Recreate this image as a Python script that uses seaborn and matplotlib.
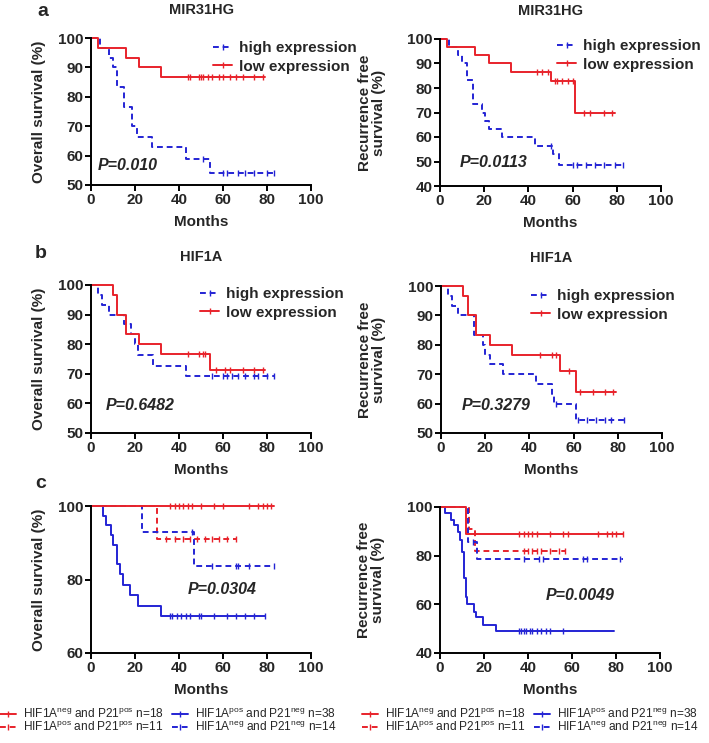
import numpy as np
import matplotlib
matplotlib.use("Agg")
import matplotlib.pyplot as plt
from matplotlib.lines import Line2D
import seaborn as sns

# ──────────────────────────────────────────
# 0.  Setup
# ──────────────────────────────────────────
sns.set_theme(style="ticks")
plt.rcParams["font.family"] = ["Liberation Sans", "DejaVu Sans"]
plt.rcParams["mathtext.fontset"] = "custom"
plt.rcParams["mathtext.rm"] = "Liberation Sans"
plt.rcParams["mathtext.it"] = "Liberation Sans:italic"
plt.rcParams["mathtext.bf"] = "Liberation Sans:bold"

RED = "#e8232b"
BLUE = "#2424d4"
DASH = (0, (3, 2))

# ──────────────────────────────────────────
# 1.  Data
# ──────────────────────────────────────────
# a: MIR31HG, overall survival
os_mir_low_t = [0, 3, 16, 22, 32, 79]
os_mir_low_s = [100, 96.7, 93.3, 90.0, 86.7, 86.7]
os_mir_low_c = [44, 45, 49, 50, 51, 53, 55, 58, 60, 63, 66, 69, 74, 78]
os_mir_high_t = [0, 4, 8, 10, 12, 15, 18.5, 21, 27.5, 43, 54, 83]
os_mir_high_s = [100, 96.7, 93.3, 90.0, 83.3, 76.7, 70.0, 66.3, 62.8, 59.0, 54.2, 54.2]
os_mir_high_c = [51, 60, 62, 67, 70, 74, 80, 83]

# a: MIR31HG, recurrence free survival
rfs_mir_low_t = [0, 3, 16, 22, 32, 50, 61, 79]
rfs_mir_low_s = [100, 96.7, 93.3, 90.0, 86.7, 83.0, 69.9, 69.9]
rfs_mir_low_c = [44, 46, 49, 52, 53, 55, 58, 60, 65, 68, 74, 78]
rfs_mir_high_t = [0, 4, 8, 10, 12, 15, 19, 20.5, 22, 28, 43, 51, 54, 83]
rfs_mir_high_s = [100, 96.7, 93.3, 90.0, 83.3, 73.3, 70.0, 66.7, 63.3, 60.0, 56.5, 53.0, 48.6, 48.6]
rfs_mir_high_c = [50, 60, 62, 66, 70, 74, 79, 83]

# b: HIF1A, overall survival
os_hif_low_t = [0, 10, 12, 16, 22, 32, 54, 79]
os_hif_low_s = [100, 96.7, 90.0, 83.3, 80.0, 76.7, 71.2, 71.2]
os_hif_low_c = [44, 49, 51, 52, 57, 61, 63, 69, 74, 78]
os_hif_high_t = [0, 3, 5, 8, 15, 18, 20, 21.5, 28, 43, 83]
os_hif_high_s = [100, 96.7, 93.3, 90.0, 86.7, 83.3, 80.0, 76.2, 72.7, 69.4, 69.4]
os_hif_high_c = [55, 60, 62, 64, 67, 70, 74, 76, 80, 83]

# b: HIF1A, recurrence free survival
rfs_hif_low_t = [0, 10, 12, 16, 22, 32, 54, 61, 79]
rfs_hif_low_s = [100, 96.7, 90.0, 83.3, 80.0, 76.7, 71.2, 64.0, 64.0]
rfs_hif_low_c = [45, 50, 52, 58, 63, 69, 74, 78]
rfs_hif_high_t = [0, 3, 5, 7.5, 15, 19, 20, 22, 28, 43, 50, 51, 61, 83]
rfs_hif_high_s = [100, 96.7, 93.3, 90.0, 83.3, 80.0, 76.7, 73.3, 70.0, 66.7, 63.3, 59.8, 54.4, 54.4]
rfs_hif_high_c = [52, 62, 66, 70, 74, 77, 83]

# c: HIF1A / P21 groups, overall survival
os_np_t = [0, 83]
os_np_s = [100, 100]
os_np_c = [36, 38, 40, 42, 44, 46, 50, 56, 60, 72, 76, 78, 80, 82]
os_pp_t = [0, 30, 66]
os_pp_s = [100, 90.9, 90.9]
os_pp_c = [34, 38, 42, 45, 48, 52, 55, 58, 62, 66]
os_nn_t = [0, 23, 47, 83]
os_nn_s = [100, 92.9, 83.6, 83.6]
os_nn_c = [46, 55, 66, 67, 72, 83]
os_pn_t = [0, 5.6, 7, 9, 10, 11.7, 13, 14.7, 17.7, 21.5, 32, 79]
os_pn_s = [100, 97.4, 94.7, 92.1, 89.5, 84.2, 81.6, 78.6, 75.7, 72.9, 70.0, 70.0]
os_pn_c = [36, 37, 39, 41, 43, 45, 49, 50, 56, 62, 66, 70, 74, 79]

# c: HIF1A / P21 groups, recurrence free survival
rfs_np_t = [0, 12, 83]
rfs_np_s = [100, 88.9, 88.9]
rfs_np_c = [36, 38, 40, 42, 44, 50, 56, 58, 72, 76, 78, 80, 83]
rfs_pp_t = [0, 13, 16, 57]
rfs_pp_s = [100, 90.9, 81.8, 81.8]
rfs_pp_c = [38, 40, 42, 44, 46, 50, 54, 57]
rfs_nn_t = [0, 12.5, 17, 83]
rfs_nn_s = [100, 85.7, 78.6, 78.6]
rfs_nn_c = [15, 38, 45, 47, 65, 67, 82]
rfs_pn_t = [0, 2.3, 5, 6.5, 8, 9.2, 10, 10.8, 11.6, 12.3, 15.3, 16.4, 19.4, 25.5, 79]
rfs_pn_s = [100, 97.4, 94.8, 92.4, 89.8, 86.6, 81.6, 70.7, 62.9, 60.2, 57.0, 54.6, 51.6, 48.9, 48.9]
rfs_pn_c = [36, 37, 38, 39, 41, 42, 44, 46, 48, 50, 56]

p_values = ["P=0.010", "P=0.0113", "P=0.6482", "P=0.3279", "P=0.0304", "P=0.0049"]
p_pos = [(3, 56.8), (9, 49.5), (6.8, 59.4), (9.5, 59.2), (44, 77.3), (48.2, 63.8)]
expr_labels = ["high expression", "low expression"]
group_labels = [
    r"HIF1A$^{\rm neg}$ and P21$^{\rm pos}$ n=18",
    r"HIF1A$^{\rm pos}$ and P21$^{\rm pos}$ n=11",
    r"HIF1A$^{\rm pos}$ and P21$^{\rm neg}$ n=38",
    r"HIF1A$^{\rm neg}$ and P21$^{\rm neg}$ n=14",
]


# ──────────────────────────────────────────
# 2.  Helpers
# ──────────────────────────────────────────
def km(ax, t, s, cens, color, ls="-"):
    """Step curve plus censor ticks."""
    sns.lineplot(x=t, y=s, ax=ax, color=color, linestyle=ls, linewidth=1.4,
                 drawstyle="steps-post", estimator=None, sort=False, clip_on=False)
    t = np.asarray(t)
    s = np.asarray(s)
    idx = np.searchsorted(t, cens, side="right") - 1
    ax.plot(cens, s[np.clip(idx, 0, len(s) - 1)], ls="none", marker="|",
            ms=4, mew=1.0, color=color, clip_on=False)


def style(ax, ylim, yticks, ylabel, label_x):
    ax.set_xlim(0, 100)
    ax.set_ylim(*ylim)
    ax.set_xticks(range(0, 101, 20))
    ax.set_yticks(yticks)
    ax.set_xlabel("Months", fontsize=11, fontweight="bold", labelpad=6)
    ax.set_ylabel(ylabel, fontsize=11, fontweight="bold", linespacing=1.0)
    ax.yaxis.set_label_coords(label_x, 0.5)
    for lab in ax.get_xticklabels() + ax.get_yticklabels():
        lab.set_fontweight("bold")
    ax.tick_params(labelsize=11, width=1.4, length=4, pad=1.5, color="black")
    for sp in ["left", "bottom"]:
        ax.spines[sp].set_linewidth(1.4)
        ax.spines[sp].set_color("black")
    sns.despine(ax=ax)


def handle(color, ls):
    return Line2D([0], [0], color=color, linestyle=ls, linewidth=1.4,
                  marker="|", ms=4, mew=1.0)


# ──────────────────────────────────────────
# 3.  Figure
# ──────────────────────────────────────────
W, H = 709, 743
fig = plt.figure(figsize=(W / 100, H / 100), dpi=100)


def add_ax(x0, x1, y0, y1):
    return fig.add_axes([x0 / W, 1 - y1 / H, (x1 - x0) / W, (y1 - y0) / H])


ax_a1 = add_ax(91, 311, 38, 185)
ax_a2 = add_ax(440, 661, 39, 186)
ax_b1 = add_ax(91, 311, 285, 433)
ax_b2 = add_ax(441, 662, 286, 433)
ax_c1 = add_ax(91, 311, 506, 653)
ax_c2 = add_ax(440, 660, 507, 653)

# ---------- a ----------
km(ax_a1, os_mir_high_t, os_mir_high_s, os_mir_high_c, BLUE, DASH)
km(ax_a1, os_mir_low_t, os_mir_low_s, os_mir_low_c, RED)
km(ax_a2, rfs_mir_high_t, rfs_mir_high_s, rfs_mir_high_c, BLUE, DASH)
km(ax_a2, rfs_mir_low_t, rfs_mir_low_s, rfs_mir_low_c, RED)

# ---------- b ----------
km(ax_b1, os_hif_high_t, os_hif_high_s, os_hif_high_c, BLUE, DASH)
km(ax_b1, os_hif_low_t, os_hif_low_s, os_hif_low_c, RED)
km(ax_b2, rfs_hif_high_t, rfs_hif_high_s, rfs_hif_high_c, BLUE, DASH)
km(ax_b2, rfs_hif_low_t, rfs_hif_low_s, rfs_hif_low_c, RED)

# ---------- c ----------
km(ax_c1, os_pp_t, os_pp_s, os_pp_c, RED, DASH)
km(ax_c1, os_nn_t, os_nn_s, os_nn_c, BLUE, DASH)
km(ax_c1, os_pn_t, os_pn_s, os_pn_c, BLUE)
km(ax_c1, os_np_t, os_np_s, os_np_c, RED)
km(ax_c2, rfs_pp_t, rfs_pp_s, rfs_pp_c, RED, DASH)
km(ax_c2, rfs_nn_t, rfs_nn_s, rfs_nn_c, BLUE, DASH)
km(ax_c2, rfs_pn_t, rfs_pn_s, rfs_pn_c, BLUE)
km(ax_c2, rfs_np_t, rfs_np_s, rfs_np_c, RED)

os_lab = "Overall survival (%)"
rfs_lab = "Recurrence free\nsurvival (%)"
style(ax_a1, (50, 100), range(50, 101, 10), os_lab, -0.205)
style(ax_a2, (40, 100), range(40, 101, 10), rfs_lab, -0.245)
style(ax_b1, (50, 100), range(50, 101, 10), os_lab, -0.205)
style(ax_b2, (50, 100), range(50, 101, 10), rfs_lab, -0.247)
style(ax_c1, (60, 100), [60, 80, 100], os_lab, -0.205)
style(ax_c2, (40, 100), [40, 60, 80, 100], rfs_lab, -0.25)

for ax, title in [(ax_a1, "MIR31HG"), (ax_a2, "MIR31HG"),
                  (ax_b1, "HIF1A"), (ax_b2, "HIF1A")]:
    ax.set_title(title, fontsize=10.5, fontweight="bold", pad=17)

for ax, txt, (px, py) in zip([ax_a1, ax_a2, ax_b1, ax_b2, ax_c1, ax_c2], p_values, p_pos):
    ax.text(px, py, txt, fontsize=11.5, fontweight="bold", style="italic",
            ha="left", va="center")

# panel letters
for letter, (lx, ly) in zip("abc", [(37, 11), (35, 253), (35, 483)]):
    fig.text(lx / W, 1 - ly / H, letter, fontsize=14, fontweight="bold",
             ha="left", va="center")

# expression legends (a, b)
expr_handles = [handle(BLUE, DASH), handle(RED, "-")]
for ax, (lx, ly) in zip([ax_a1, ax_a2, ax_b1, ax_b2],
                        [(213, 41), (557, 39), (200, 287), (531, 289)]):
    ax.legend(expr_handles, expr_labels, loc="upper left",
              bbox_to_anchor=(lx / W, 1 - ly / H), bbox_transform=fig.transFigure,
              frameon=False, prop=dict(weight="bold", size=11),
              handlelength=1.25, handletextpad=0.45, labelspacing=0.3,
              borderpad=0, borderaxespad=0)

# group legends (c)
grp_handles = [handle(RED, "-"), handle(RED, DASH), handle(BLUE, "-"), handle(BLUE, DASH)]
for ax, lx in zip([ax_c1, ax_c2], [0, 362]):
    ax.legend(grp_handles, group_labels, loc="upper left", ncol=2,
              bbox_to_anchor=(lx / W, 1 - 707 / H), bbox_transform=fig.transFigure,
              frameon=False, fontsize=8.6, handlelength=1.3, handletextpad=0.6,
              labelspacing=-0.05, columnspacing=0.7, borderpad=0, borderaxespad=0)

plt.savefig("out.png", dpi=100)
plt.close()
